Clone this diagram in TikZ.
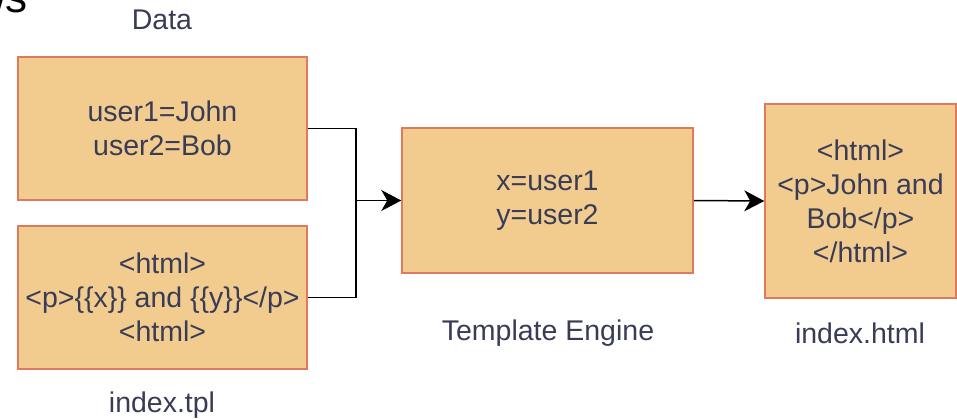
\documentclass[tikz,border=0pt]{standalone}
\usepackage{fontspec}
\setmainfont{Liberation Sans}
\usetikzlibrary{arrows.meta}
\definecolor{boxfill}{HTML}{F2CC8F}
\definecolor{boxline}{HTML}{E07A5F}
\definecolor{ink}{HTML}{393C56}
\tikzset{
  card/.style={draw=boxline, fill=boxfill, line width=1.5pt, text=ink,
    align=center, inner sep=0pt,
    font=\fontsize{28.5}{34}\selectfont},
  caption/.style={text=ink, inner sep=0pt, font=\fontsize{28.5}{34}\selectfont},
  link/.style={draw=black, line width=1.5pt},
  flow/.style={link, -{Stealth[length=20pt, width=21pt, inset=6pt]}}
}
\begin{document}
\begin{tikzpicture}[x=1pt, y=-1pt]
  \useasboundingbox (0,0) rectangle (957,418);
  \clip (0,0) rectangle (957,418);

  % tail of the page heading above the figure
  \node[anchor=base east, inner sep=0pt, font=\fontsize{44}{50}\selectfont]
    (heading) at (28,12) {ws};

  % input boxes
  \node[card, minimum width=289pt, minimum height=143pt] (data) at (162.5,128.5)
    {user1=John\\user2=Bob};
  \node[card, minimum width=289pt, minimum height=143pt] (tpl) at (162.5,297.5)
    {<html>\\<p>\{\{x\}\} and \{\{y\}\}</p>\\<html>};

  % engine and result
  \node[card, minimum width=291pt, minimum height=145pt] (engine) at (547.5,200.5)
    {x=user1\\y=user2};
  \node[card, minimum width=191pt, minimum height=194pt] (html) at (860.5,201)
    {<html>\\<p>John and\\Bob</p>\\</html>};

  % captions
  \node[caption] (datalbl) at (162,20) {Data};
  \node[caption] (tpllbl) at (162,405) {index.tpl};
  \node[caption] (englbl) at (548,333) {Template Engine};
  \node[caption] (htmllbl) at (860,333) {index.html};

  % connectors
  \coordinate (join) at (356,200.5);
  \draw[link] (data.east) -| (join);
  \draw[link] (tpl.east) -| (join);
  \draw[flow] (join) -- (engine.west);
  \draw[flow] (engine.east) -- (html.west);
\end{tikzpicture}
\end{document}
